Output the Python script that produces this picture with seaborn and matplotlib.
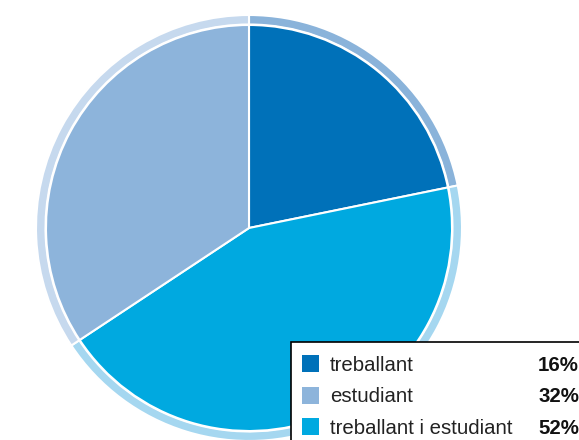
import matplotlib
matplotlib.use('Agg')
import matplotlib.pyplot as plt
import seaborn as sns
from matplotlib.patches import Rectangle

# Data: categories, legend percentages, and slice shares as drawn in the picture
categories = ['treballant', 'estudiant', 'treballant i estudiant']
legend_pct = ['16%', '32%', '52%']
drawn_share = [21.8, 34.3, 43.9]

# colours per category (fill + lighter outer ring)
fill_colors = ['#0071B9', '#8DB4DB', '#00A9E0']
ring_colors = ['#8AB3DA', '#C6D9EE', '#A5D7F0']

# pie goes clockwise from top: treballant, treballant i estudiant, estudiant
order = [0, 2, 1]

sns.set_style("white")
plt.rcParams['font.family'] = ['Liberation Sans', 'DejaVu Sans']

W, H = 579, 440
fig = plt.figure(figsize=(W / 100, H / 100), dpi=100)
ax = fig.add_axes([0, 0, 1, 1])

vals = [drawn_share[i] for i in order]
ax.pie(vals, colors=[ring_colors[i] for i in order], radius=213,
       startangle=90, counterclock=False,
       wedgeprops=dict(width=9.5, edgecolor='white', linewidth=1.5))
ax.pie(vals, colors=[fill_colors[i] for i in order], radius=203,
       startangle=90, counterclock=False,
       wedgeprops=dict(edgecolor='white', linewidth=1.5))

# centre of pie at pixel (249, 228)
ax.set_xlim(-249, W - 249)
ax.set_ylim(-(H - 228), 228)
ax.set_aspect('equal')
ax.axis('off')


def fx(px):
    return px / W


def fy(py):
    return 1 - py / H


# legend box
fig.patches.append(Rectangle((fx(291), fy(446)), fx(300), 104 / H,
                             transform=fig.transFigure, facecolor='white',
                             edgecolor='black', linewidth=1.2, zorder=5))

row_gap = 31.5
for k, (cat, pct) in enumerate(zip(categories, legend_pct)):
    base = 370.7 + k * row_gap
    fig.patches.append(Rectangle((fx(302), fy(base + 1.5)), 17 / W, 17 / H,
                                 transform=fig.transFigure,
                                 facecolor=fill_colors[k], edgecolor='none',
                                 zorder=6))
    fig.text(fx(330), fy(base), cat, fontsize=14.7, color='#222222',
             va='baseline', ha='left', zorder=7)
    fig.text(fx(579), fy(base), pct, fontsize=14.7, color='#111111',
             fontweight='bold', va='baseline', ha='right', zorder=7)

plt.savefig('out.png', dpi=100)
